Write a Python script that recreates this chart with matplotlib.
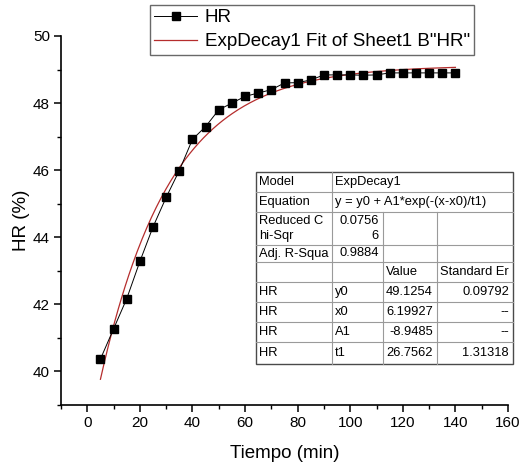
import numpy as np
import matplotlib
matplotlib.use("Agg")
import matplotlib.pyplot as plt
from matplotlib.lines import Line2D

plt.rcParams['font.family'] = ['Liberation Sans', 'DejaVu Sans']

# ---- data ----
tiempo = [5, 10, 15, 20, 25, 30, 35, 40, 45, 50, 55, 60, 65, 70,
          75, 80, 85, 90, 95, 100, 105, 110, 115, 120, 125, 130, 135, 140]
hr = [40.37, 41.27, 42.17, 43.28, 44.31, 45.19, 45.99, 46.92, 47.30, 47.80,
      48.00, 48.20, 48.30, 48.40, 48.60, 48.61, 48.69, 48.84, 48.84, 48.84,
      48.83, 48.84, 48.90, 48.90, 48.90, 48.90, 48.90, 48.90]

# fit parameters (from the table in the chart)
y0 = 49.1254
x0 = 6.19927
A1 = -8.9485
t1 = 26.7562

table_rows = [
    ["Model", "ExpDecay1"],
    ["Equation", "y = y0 + A1*exp(-(x-x0)/t1)"],
    ["Reduced C\nhi-Sqr", "0.0756\n6", "", ""],
    ["Adj. R-Squa", "0.9884", "", ""],
    ["", "", "Value", "Standard Er"],
    ["HR", "y0", "49.1254", "0.09792"],
    ["HR", "x0", "6.19927", "--"],
    ["HR", "A1", "-8.9485", "--"],
    ["HR", "t1", "26.7562", "1.31318"],
]

W, H = 531, 465
fig = plt.figure(figsize=(W / 100, H / 100), dpi=100)
ax = fig.add_axes([61 / W, 1 - 405 / H, (508 - 61) / W, (405 - 36) / H])

xf = np.linspace(min(tiempo), max(tiempo), 300)
yf = y0 + A1 * np.exp(-(xf - x0) / t1)

ax.plot(tiempo, hr, color='black', lw=0.7, marker='s', ms=6.4,
        mfc='black', mec='black', zorder=3)
ax.plot(xf, yf, color='#b52d2d', lw=0.9, zorder=2)

ax.set_xlim(-10, 160)
ax.set_ylim(39, 50)
ax.set_xticks(np.arange(0, 161, 20))
ax.set_xticks(np.arange(-10, 161, 10), minor=True)
ax.set_yticks(np.arange(40, 51, 2))
ax.set_yticks(np.arange(39, 51, 1), minor=True)
for s in ['top', 'right']:
    ax.spines[s].set_visible(False)
for s in ['left', 'bottom']:
    ax.spines[s].set_linewidth(1.2)
ax.tick_params(which='major', direction='out', length=5, width=1.1,
               labelsize=11, pad=3)
ax.tick_params(which='minor', direction='out', length=3, width=1.0)
ax.set_xlabel("Tiempo (min)", fontsize=13.5, labelpad=11)
ax.set_ylabel("HR (%)", fontsize=13.5, labelpad=2)

# ---- legend ----
h1 = Line2D([], [], color='black', lw=0.7, marker='s', ms=6, mfc='black')
h2 = Line2D([], [], color='#b52d2d', lw=0.9)
leg = fig.legend([h1, h2], ["HR", 'ExpDecay1 Fit of Sheet1 B"HR"'],
                 loc='upper left', bbox_to_anchor=(150 / W, 1 - 5 / H),
                 borderaxespad=0, fontsize=13.5, numpoints=1,
                 handlelength=2.3, handletextpad=0.4, borderpad=0.22,
                 labelspacing=0.38, fancybox=False, frameon=True)
leg.get_frame().set_edgecolor('#444444')
leg.get_frame().set_linewidth(1.0)

# ---- table (drawn in pixel coordinates) ----
def fx(px):
    return px / W

def fy(py):
    return 1 - py / H

col_x = [256, 332, 382.5, 437, 513]
row_h = [20, 20, 33, 17, 20, 20, 20, 20, 22]
top = 172
row_y = [top]
for h in row_h:
    row_y.append(row_y[-1] + h)

outer = '#4a4a4a'
inner = '#9a9a9a'
fs = 9.3
fig.patches.append(plt.Rectangle((fx(col_x[0]), fy(row_y[-1])),
                                 fx(col_x[-1]) - fx(col_x[0]),
                                 fy(row_y[0]) - fy(row_y[-1]),
                                 transform=fig.transFigure, facecolor='white',
                                 edgecolor=outer, lw=1.0, zorder=5))
for yy in row_y[1:-1]:
    fig.add_artist(Line2D([fx(col_x[0]), fx(col_x[-1])], [fy(yy), fy(yy)],
                          color=inner, lw=0.8, zorder=6))
for i, row in enumerate(table_rows):
    ncols = len(row)
    for c in range(1, 4):
        if ncols == 2 and c > 1:
            continue
        fig.add_artist(Line2D([fx(col_x[c]), fx(col_x[c])],
                              [fy(row_y[i]), fy(row_y[i + 1])],
                              color=inner, lw=0.8, zorder=6))


def is_num(s):
    try:
        float(s.replace('\n', ''))
        return True
    except ValueError:
        return s == '--'


def put(xp, yc, txt, ha):
    if '\n' in txt:
        lines = txt.split('\n')
        fig.text(fx(xp), fy(yc - 7.5), lines[0], ha=ha, va='center',
                 fontsize=fs, zorder=7)
        fig.text(fx(xp), fy(yc + 7.5), lines[1], ha=ha, va='center',
                 fontsize=fs, zorder=7)
    else:
        fig.text(fx(xp), fy(yc), txt, ha=ha, va='center', fontsize=fs,
                 zorder=7)


for i, row in enumerate(table_rows):
    yc = (row_y[i] + row_y[i + 1]) / 2
    for c, txt in enumerate(row):
        if not txt:
            continue
        if is_num(txt) and len(row) == 4 and c >= 1:
            put(col_x[c + 1] - 4, yc, txt, 'right')
        else:
            put(col_x[c] + 3, yc, txt, 'left')

fig.savefig("out.png", dpi=100)
